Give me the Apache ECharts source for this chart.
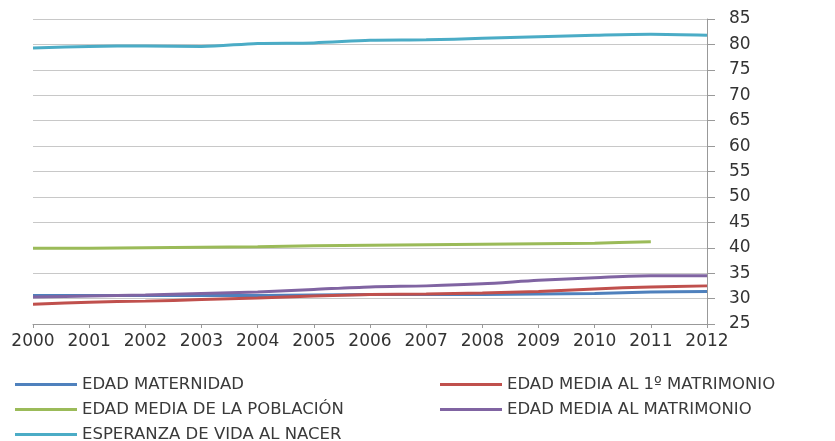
<!DOCTYPE html>
<html>
<head>
<meta charset="utf-8">
<script src="https://cdn.jsdelivr.net/npm/echarts@6/dist/echarts.min.js"></script>
<style>html,body{margin:0;padding:0;background:#fff}#c{width:835px;height:441px}</style>
</head>
<body>
<div id="c"></div>
<script>
const years = ['2000','2001','2002','2003','2004','2005','2006','2007','2008','2009','2010','2011','2012'];
const yTicks = {min: 25, max: 85, interval: 5};
const edadMaternidad = [30.6, 30.6, 30.6, 30.6, 30.6, 30.7, 30.8, 30.8, 30.8, 30.9, 31.0, 31.3, 31.4];
const edadPrimerMatrimonio = [28.9, 29.3, 29.5, 29.8, 30.1, 30.5, 30.8, 30.9, 31.1, 31.4, 31.9, 32.3, 32.5];
const edadPoblacion = [39.9, 39.9, 40.0, 40.1, 40.2, 40.4, 40.5, 40.6, 40.7, 40.8, 40.9, 41.2, null];
const edadMatrimonio = [30.3, 30.5, 30.7, 31.0, 31.3, 31.8, 32.3, 32.5, 32.9, 33.6, 34.1, 34.5, 34.5];
const esperanzaVida = [79.3, 79.6, 79.7, 79.6, 80.2, 80.3, 80.8, 80.9, 81.2, 81.5, 81.8, 82.0, 81.8];

const names = ['EDAD MATERNIDAD','EDAD MEDIA AL 1º MATRIMONIO','EDAD MEDIA DE LA POBLACIÓN','EDAD MEDIA AL MATRIMONIO','ESPERANZA DE VIDA AL NACER'];
const colors = ['#4F81BD','#C0504D','#9BBB59','#8064A2','#4BACC6'];
const datas = [edadMaternidad, edadPrimerMatrimonio, edadPoblacion, edadMatrimonio, esperanzaVida];

const chart = echarts.init(document.getElementById('c'), null, {renderer: 'canvas'});
const font = 'DejaVu Sans, sans-serif';
const legendText = {color: '#3a3a3a', fontSize: 16.5, fontFamily: font, lineHeight: 16};
chart.setOption({
  animation: false,
  textStyle: {fontFamily: font},
  grid: {left: 33, right: 128, top: 19, bottom: 117},
  legend: [
    {left: 10, top: 376, height: 80, orient: 'vertical', itemWidth: 62, itemHeight: 3, itemGap: 8, icon: 'rect', padding: [0, 5],
     data: [names[0], names[2], names[4]], textStyle: legendText},
    {left: 435, top: 376, height: 80, orient: 'vertical', itemWidth: 62, itemHeight: 3, itemGap: 8, icon: 'rect', padding: [0, 5],
     data: [names[1], names[3]], textStyle: legendText}
  ],
  xAxis: {
    type: 'category', data: years, boundaryGap: false,
    axisLine: {lineStyle: {color: '#999'}},
    axisTick: {show: true, length: 4, interval: 0, lineStyle: {color: '#999'}},
    axisLabel: {color: '#333', fontSize: 17, margin: 9, interval: 0, fontFamily: font},
    splitLine: {show: false}
  },
  yAxis: {
    type: 'value', position: 'right', min: yTicks.min, max: yTicks.max, interval: yTicks.interval,
    axisLine: {show: true, lineStyle: {color: '#999'}},
    axisTick: {show: true, length: 8, lineStyle: {color: '#999'}},
    axisLabel: {color: '#333', fontSize: 17, margin: 22, fontFamily: font},
    splitLine: {lineStyle: {color: '#c8c8c8'}}
  },
  series: datas.map((d, i) => ({
    name: names[i], type: 'line', data: d, showSymbol: false, symbol: 'none', smooth: 0.3,
    lineStyle: {width: 3, color: colors[i]}, itemStyle: {color: colors[i]}
  }))
});
</script>
</body>
</html>
